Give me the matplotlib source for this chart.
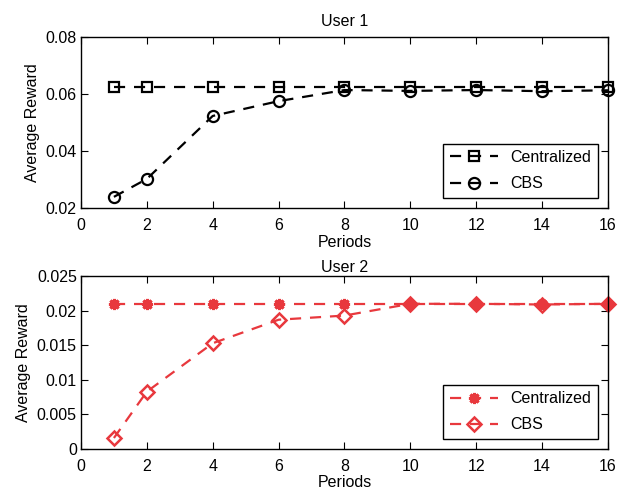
import numpy as np
import matplotlib
matplotlib.use('Agg')
import matplotlib.pyplot as plt

plt.rcParams['font.family'] = ['Liberation Sans', 'DejaVu Sans']

periods = [1, 2, 4, 6, 8, 10, 12, 14, 16]

# User 1
u1_central = [0.0625, 0.0625, 0.0625, 0.0625, 0.0625, 0.0625, 0.0625, 0.0625, 0.0625]
u1_cbs = [0.0239, 0.0302, 0.0523, 0.0575, 0.0614, 0.0611, 0.0614, 0.0610, 0.0613]

# User 2
u2_central = [0.0210, 0.0210, 0.0210, 0.0210, 0.0210, 0.0210, 0.0210, 0.0210, 0.0210]
u2_cbs = [0.0016, 0.0083, 0.0153, 0.0187, 0.0193, 0.0210, 0.0210, 0.0209, 0.0210]

red = '#e8383d'
fs = 11.5
dash = (0, (5, 4))

fig = plt.figure(figsize=(6.2, 4.94), dpi=100)
ax1 = fig.add_axes([0.1306, 0.579, 0.850, 0.346])
ax2 = fig.add_axes([0.1306, 0.091, 0.850, 0.350])

ax1.plot(periods, u1_central, linestyle=dash, color='black', lw=1.6, clip_on=False,
         marker='s', ms=7.5, mfc='none', mew=1.6, label='Centralized')
ax1.plot(periods, u1_cbs, linestyle=dash, color='black', lw=1.6, clip_on=False,
         marker='o', ms=8, mfc='none', mew=1.6, label='CBS')
ax1.set_xlim(0, 16)
ax1.set_ylim(0.02, 0.08)
ax1.set_yticks([0.02, 0.04, 0.06, 0.08])
ax1.set_yticklabels(['0.02', '0.04', '0.06', '0.08'])
ax1.set_title('User 1', fontsize=fs, pad=8)
ax1.set_xlabel('Periods', fontsize=fs, labelpad=2)
ax1.set_ylabel('Average Reward', fontsize=fs)

ax2.plot(periods, u2_central, linestyle=dash, color=red, lw=1.6, clip_on=False,
         marker=(8, 2, 0), ms=8, mew=2.2, label='Centralized')
ax2.plot(periods, u2_cbs, linestyle=dash, color=red, lw=1.6, clip_on=False,
         marker='D', ms=7, mfc='none', mew=1.8, label='CBS')
ax2.set_xlim(0, 16)
ax2.set_ylim(0, 0.025)
ax2.set_yticks([0, 0.005, 0.01, 0.015, 0.02, 0.025])
ax2.set_yticklabels(['0', '0.005', '0.01', '0.015', '0.02', '0.025'])
ax2.set_title('User 2', fontsize=fs, pad=3)
ax2.set_xlabel('Periods', fontsize=fs, labelpad=1)
ax2.set_ylabel('Average Reward', fontsize=fs)

for ax in (ax1, ax2):
    ax.set_xticks(range(0, 17, 2))
    ax.tick_params(direction='in', top=True, right=True, labelsize=fs, length=5, width=0.8)
    ax.tick_params(axis='x', pad=7)
    ax.tick_params(axis='y', pad=3)
    for s in ax.spines.values():
        s.set_linewidth(1.0)
    leg = ax.legend(loc='lower right', fontsize=fs, handlelength=3.0, fancybox=False,
                    edgecolor='black', framealpha=1, borderaxespad=0.65, labelspacing=0.7)
    leg.get_frame().set_linewidth(1.0)

fig.savefig('out.png', dpi=100)
